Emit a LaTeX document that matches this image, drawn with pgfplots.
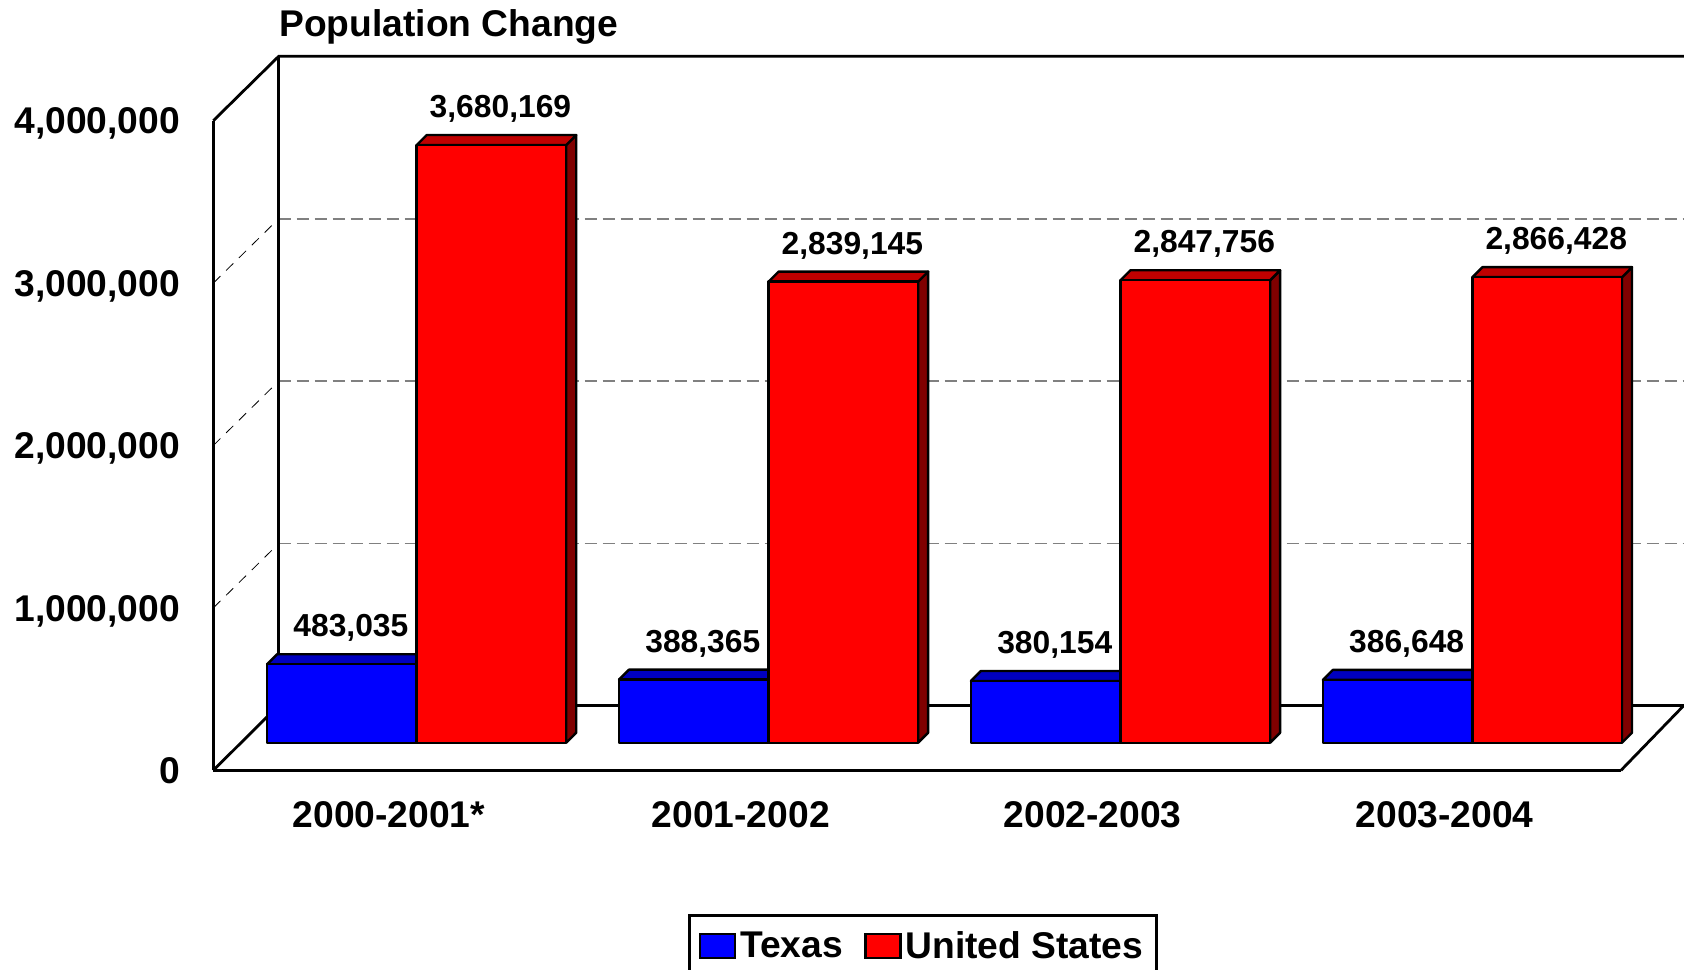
\documentclass[border=0pt]{standalone}
\usepackage{fontspec}
\setmainfont{Liberation Sans}
\usepackage{pgfplots}
\pgfplotsset{compat=1.18}

\definecolor{txfront}{RGB}{0,0,255}
\definecolor{txtop}{RGB}{0,0,192}
\definecolor{usfront}{RGB}{255,0,0}
\definecolor{ustop}{RGB}{192,0,0}
\definecolor{usside}{RGB}{128,0,0}

\newcommand{\bigfont}{\bfseries\fontsize{18.6}{22}\selectfont}
\newcommand{\smallfont}{\bfseries\fontsize{15.9}{19}\selectfont}

% one 3d bar: left edge (category units), value, front, top, side colour
\newcommand{\threedbar}[5]{%
  \pgfmathsetmacro\xa{#1}%
  \pgfmathsetmacro\xb{#1+0.425}%
  \pgfmathsetmacro\xc{#1+0.425+0.0284}%
  \pgfmathsetmacro\xd{#1+0.0284}%
  \pgfmathsetmacro\xm{#1+0.2125}%
  \edef\ytop{\the\numexpr#2+61576\relax}%
  \addplot[draw=black, line width=1.2pt, line join=round, fill=#5] coordinates {(\xb,0) (\xc,61576) (\xc,\ytop) (\xb,#2)} -- cycle;
  \addplot[draw=black, line width=1.2pt, line join=round, fill=#4] coordinates {(\xa,#2) (\xd,\ytop) (\xc,\ytop) (\xb,#2)} -- cycle;
  \addplot[draw=black, line width=1.2pt, line join=round, fill=#3] coordinates {(\xa,0) (\xb,0) (\xb,#2) (\xa,#2)} -- cycle;
  \addplot[draw=none, nodes near coords, point meta=y] coordinates {(\xm,#2)};
}

\begin{document}
\begin{tikzpicture}
\path[use as bounding box] (0,0) rectangle (842pt,-484.5pt);

% back wall, side wall and floor, in pixels of the reference
\begin{scope}[x=0.5pt, y=-0.5pt]
  \foreach \yb in {218.7,381.1,543.5}
    \draw[gray, line width=0.8pt, dash pattern=on 6pt off 3pt] (278.7,\yb) -- (1684,\yb);
  \foreach \yf/\yb in {283.1/218.7,445.5/381.1,607.9/543.5}
    \draw[black, line width=0.4pt, dash pattern=on 5pt off 4pt] (213.3,\yf) -- (278.7,\yb);
  \draw[black, line width=1.4pt] (213.3,120.7) -- (278.7,56.3) -- (1684,56.3);
  \draw[black, line width=1.4pt] (278.7,56.3) -- (278.7,705.3) -- (1684,705.3);
  \draw[black, line width=1.4pt] (213.3,770.3) -- (278.7,705.3);
  \draw[black, line width=1.4pt] (1621,770.3) -- (1684,705.3);
\end{scope}

% front plane: axes, ticks, title, legend
\begin{axis}[
    at={(106.65pt,-385.15pt)}, anchor=south west,
    scale only axis, width=703.85pt, height=324.8pt,
    xmin=-0.5, xmax=3.5, ymin=0, ymax=4000000,
    clip=false,
    axis x line=bottom, axis y line=left,
    axis line style={-, line width=1.4pt},
    major tick length=0pt,
    xtick={0,1,2,3},
    xticklabels={2000-2001*,2001-2002,2002-2003,2003-2004},
    ytick={0,1000000,2000000,3000000,4000000},
    scaled y ticks=false,
    /pgf/number format/.cd, fixed, precision=0, 1000 sep={,}, assume math mode=true,
    /pgfplots/.cd,
    tick label style={font=\bigfont, inner sep=0pt},
    yticklabel style={anchor=base east, xshift=-16.5pt, yshift=-6.6pt},
    xticklabel style={anchor=base, xshift=-0.2pt, yshift=-28.5pt},
    title={Population Change},
    title style={font=\bigfont, anchor=base west, inner sep=0pt, at={(axis description cs:0.0467,1.1110)}},
    legend columns=2,
    legend style={
      at={(axis description cs:0.3374,-0.2210)}, anchor=north west,
      draw=black, line width=1.4pt, font=\bigfont,
      inner xsep=4.5pt, inner ysep=6pt,
      /tikz/every even column/.append style={column sep=8.7pt},
    },
    legend cell align=left,
    legend image code/.code={\draw[#1, line width=1.2pt] (0pt,-6pt) rectangle (17.5pt,6pt);},
]
\addlegendimage{fill=txfront, draw=black}
\addlegendentry{Texas}
\addlegendimage{fill=usfront, draw=black}
\addlegendentry{United States}
\end{axis}

% bars stand on the floor, set back from the front plane
\begin{axis}[
    at={(120.35pt,-371.35pt)}, anchor=south west,
    scale only axis, width=703.85pt, height=324.8pt,
    xmin=-0.5, xmax=3.5, ymin=0, ymax=4000000,
    clip=false, hide axis,
    /pgf/number format/.cd, fixed, precision=0, 1000 sep={,}, assume math mode=true,
    /pgfplots/.cd,
    nodes near coords style={font=\smallfont, anchor=base, inner sep=0pt, xshift=4.5pt, yshift=13.8pt, text=black},
]
\threedbar{-0.425}{483035}{txfront}{txtop}{txtop}
\threedbar{0}{3680169}{usfront}{ustop}{usside}
\threedbar{0.575}{388365}{txfront}{txtop}{txtop}
\threedbar{1}{2839145}{usfront}{ustop}{usside}
\threedbar{1.575}{380154}{txfront}{txtop}{txtop}
\threedbar{2}{2847756}{usfront}{ustop}{usside}
\threedbar{2.575}{386648}{txfront}{txtop}{txtop}
\threedbar{3}{2866428}{usfront}{ustop}{usside}
\end{axis}
\end{tikzpicture}
\end{document}
